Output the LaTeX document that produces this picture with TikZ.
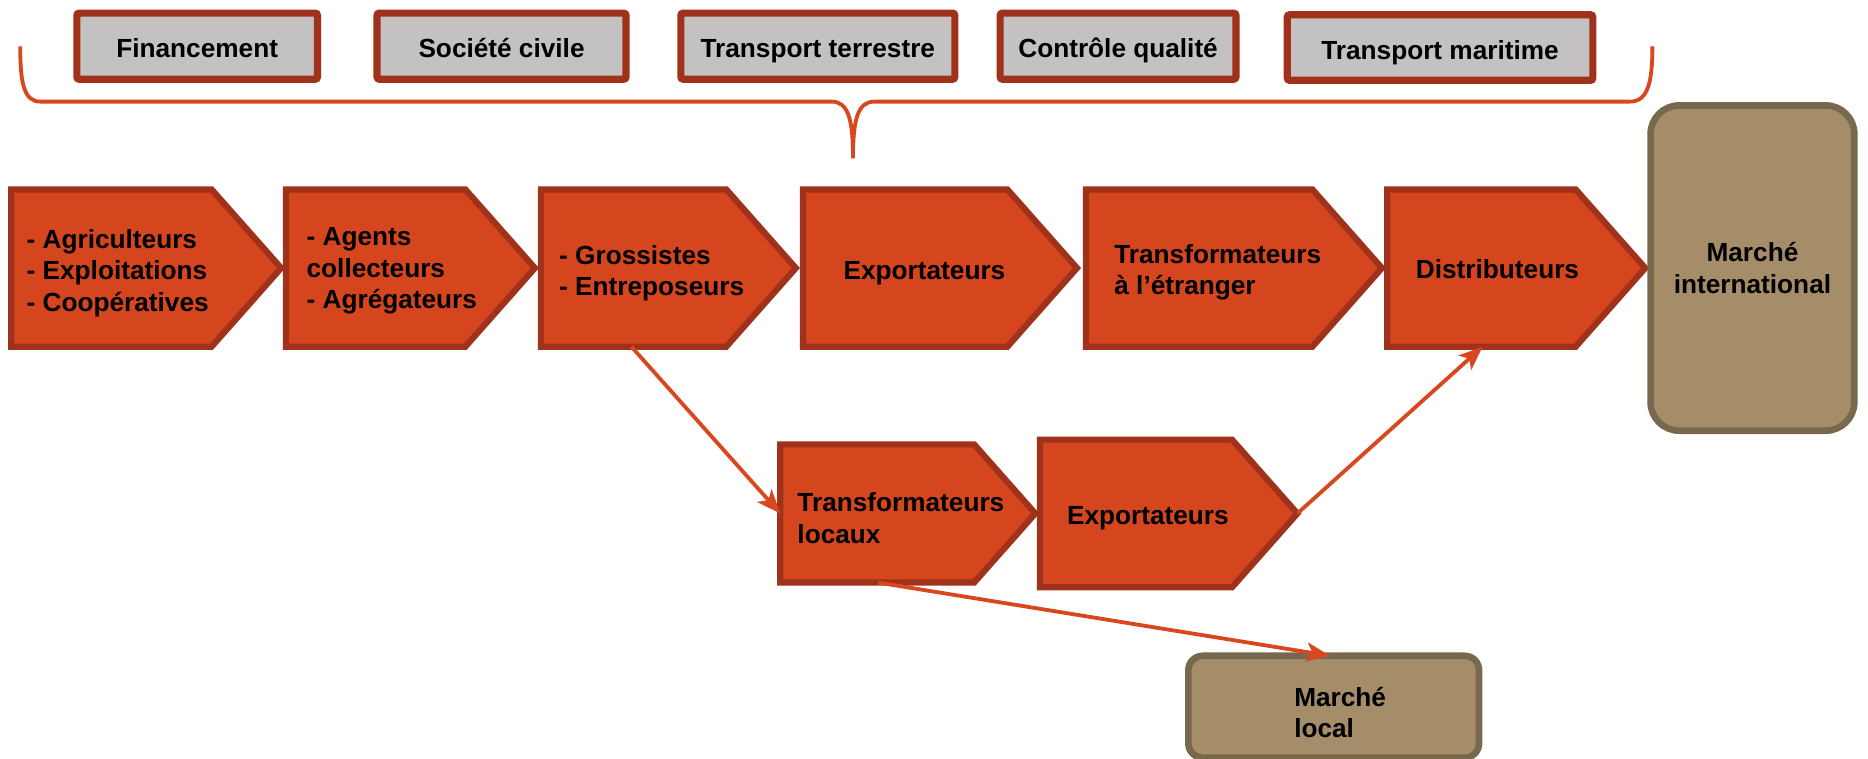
\documentclass[tikz,border=0pt]{standalone}
\usepackage{fontspec}
\setmainfont{Liberation Sans}
\usetikzlibrary{shapes.symbols,arrows.meta,calc}

\begin{document}
\begin{tikzpicture}[x=0.5pt,y=0.5pt,yscale=-1,xscale=1,
  stage/.style={shape=signal, signal to=east, signal pointer angle=97, anchor=west, draw={rgb, 255:red, 160; green, 49; blue, 26}, fill={rgb, 255:red, 213; green, 70; blue, 31}, line width=2.6pt, inner sep=0pt, outer sep=0pt, minimum height=66pt},
  actor/.style={draw={rgb, 255:red, 160; green, 49; blue, 26}, fill={rgb, 255:red, 195; green, 193; blue, 194}, line width=3pt, inner sep=0pt, outer sep=0pt, minimum height=27.75pt, rounded corners=1pt, text height=9.9pt, text depth=0pt, font=\fontsize{11}{13.25}\selectfont\bfseries},
  market/.style={draw={rgb, 255:red, 120; green, 104; blue, 77}, fill={rgb, 255:red, 165; green, 141; blue, 106}, line width=2.8pt, inner sep=0pt, outer sep=0pt, rounded corners=12pt, font=\fontsize{11}{13.25}\selectfont\bfseries},
  lbl/.style={font=\fontsize{11}{13.25}\selectfont\bfseries, align=left, inner sep=0pt, anchor=west},
  flow/.style={draw={rgb, 255:red, 217; green, 71; blue, 31}, line width=1.6pt, -{Stealth[length=10pt,width=8pt,inset=2.5pt]}}
]
\useasboundingbox (0,0) rectangle (1568,637);

%Shape: Brace
\draw [color={rgb, 255:red, 217; green, 71; blue, 31}, line width=1.6pt] (17,39) .. controls (17,70) and (20,85.3) .. (34,85.3) -- (698,85.3) .. controls (712,85.3) and (716,100) .. (716,133) .. controls (716,100) and (720,85.3) .. (734,85.3) -- (1368,85.3) .. controls (1383,85.3) and (1387,70) .. (1387,39) ;

% Support boxes
\node [actor, minimum width=101pt] (financement) at (165.5,38.75) {Financement};
\node [actor, minimum width=104.5pt] (societe) at (421,38.75) {Société civile};
\node [actor, minimum width=115pt] (terrestre) at (686.5,38.75) {Transport terrestre};
\node [actor, minimum width=99pt] (qualite) at (938.5,38.75) {Contrôle qualité};
\node [actor, minimum width=128.25pt, minimum height=27.5pt] (maritime) at (1208.75,39.9) {Transport maritime};

%Shape: Chain, upper row
\node [stage, minimum width=113.25pt] (producteurs) at (9.5,225) {};
\node [stage, minimum width=104.5pt] (collecteurs) at (240,225) {};
\node [stage, minimum width=107pt] (grossistes) at (454,225) {};
\node [stage, minimum width=115pt] (exportateurs) at (674,225) {};
\node [stage, minimum width=124.25pt] (etranger) at (911.5,225) {};
\node [stage, minimum width=108.25pt] (distributeurs) at (1164.5,225) {};

%Shape: Chain, lower row
\node [stage, minimum width=107pt, minimum height=58pt] (locaux) at (655,431) {};
\node [stage, minimum width=108pt, minimum height=62pt] (exportlocal) at (873,431) {};

%Shape: Markets
\node [market, minimum width=85.5pt, minimum height=136.5pt, align=center] (international) at (1471,225) {Marché\\international};
\node [market, minimum width=122pt, minimum height=42.75pt, rounded corners=6pt] (local) at (1119.5,593.25) {};

% Text Node
\node [lbl] (producteursTxt) at (22,229) {- Agriculteurs\\- Exploitations\\- Coopératives};
% Text Node
\node [lbl] (collecteursTxt) at (257,227.5) {- Agents\\collecteurs\\- Agrégateurs};
% Text Node
\node [lbl] (grossistesTxt) at (469,229.5) {- Grossistes\\- Entreposeurs};
% Text Node
\node [lbl, anchor=center] (exportateursTxt) at (776,229) {Exportateurs};
% Text Node
\node [lbl] (etrangerTxt) at (935,228.5) {Transformateurs\\à l’étranger};
% Text Node
\node [lbl, anchor=center] (distributeursTxt) at (1257,226) {Distributeurs};
% Text Node
\node [lbl] (locauxTxt) at (669,435) {Transformateurs\\locaux};
% Text Node
\node [lbl, anchor=center] (exportlocalTxt) at (963.5,435) {Exportateurs};
% Text Node
\node [lbl] (localTxt) at (1086,598) {Marché\\local};

% Flows
\draw [flow] ($(grossistes.west |- grossistes.south)+(76,0)$) -- (locaux.west);
\draw [flow] (exportlocal.east) -- ($(distributeurs.west |- distributeurs.south)+(80,0)$);
\draw [flow] ($(locaux.west |- locaux.south)+(82,0)$) -- ($(local.north)+(-3,0)$);

\end{tikzpicture}
\end{document}
